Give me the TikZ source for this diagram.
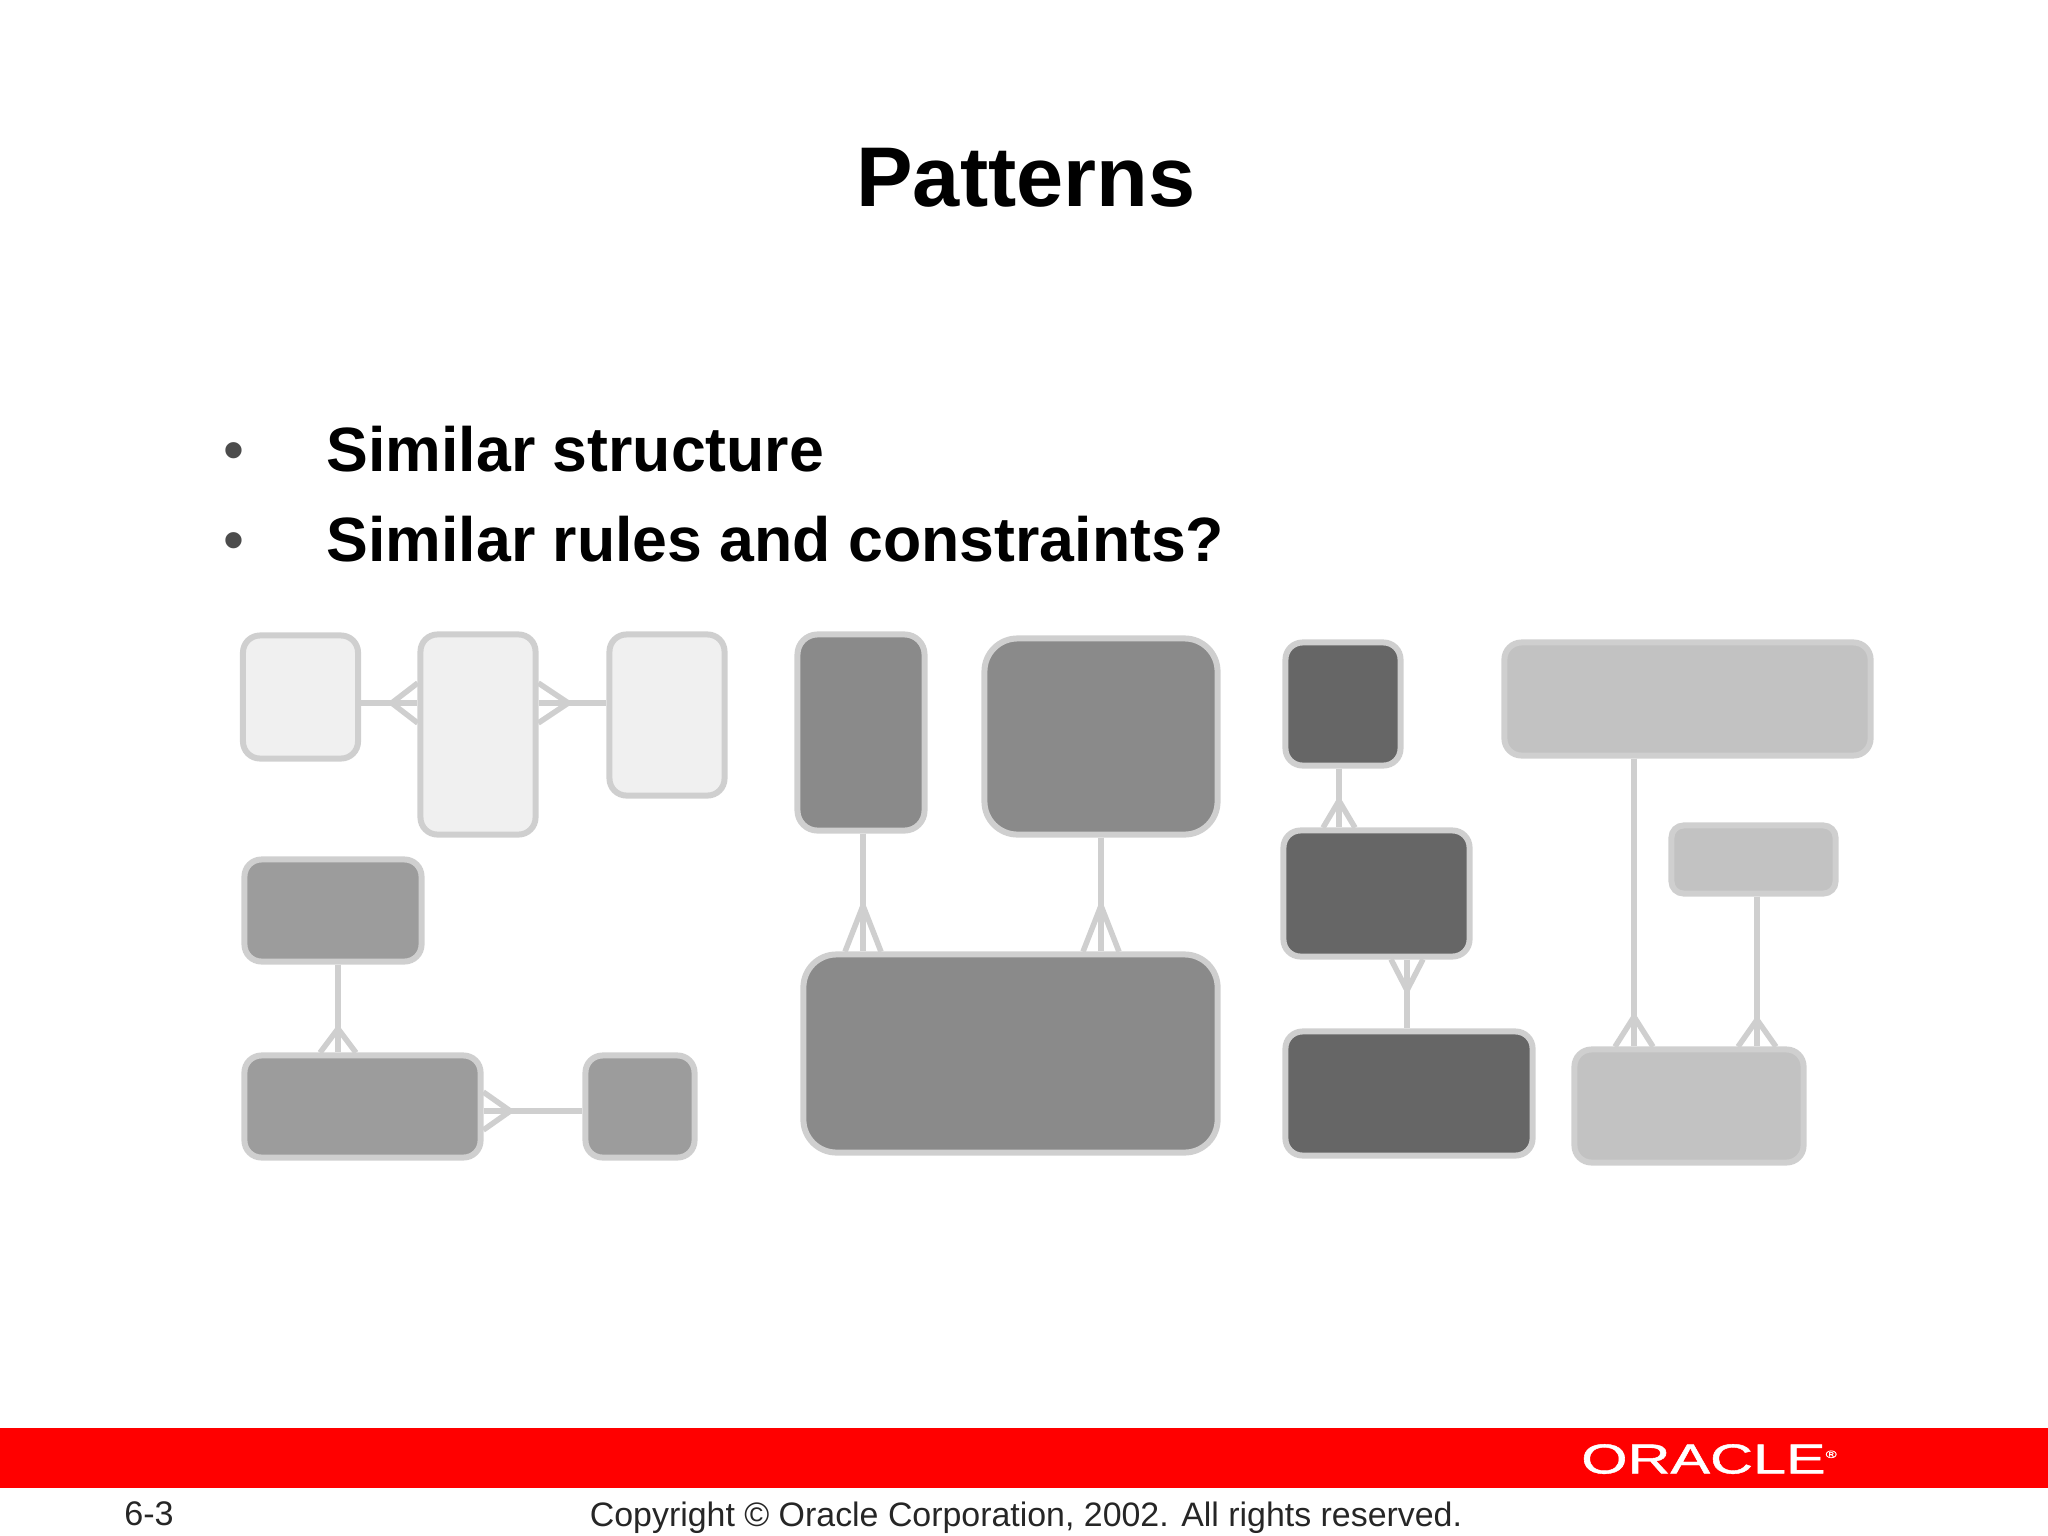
\documentclass[tikz,border=0pt]{standalone}
\usepackage{fontspec}
\setmainfont{Liberation Sans}
\usetikzlibrary{arrows.meta}
\definecolor{edgegrey}{HTML}{CFCFCF}
\tikzset{
	entity/.style={draw=edgegrey, line width=0.06cm, rounded corners=#1},
	entity/.default=0.17cm,
	link/.style={draw=edgegrey, line width=0.055cm},
	crow/.style 2 args={postaction={draw, shorten >=-0.03cm, -{Straight Barb[reversed, length=#1, width=#2]}}},
	crowback/.style 2 args={postaction={draw, shorten <=-0.03cm, {Straight Barb[reversed, length=#1, width=#2]}-}},
}

\begin{document}
\begin{tikzpicture}[x=0.01cm, y=-0.01cm]
		\useasboundingbox (0, 0) rectangle (2048, 1536);

		% header text
		\node[font=\bfseries\fontsize{24.1pt}{30pt}\selectfont] (title) at (1026, 178) {Patterns};
		\node[font=\fontsize{17pt}{20pt}\selectfont, text=black!70] (bulletone) at (234, 456.5) {•};
		\node[font=\fontsize{17pt}{20pt}\selectfont, text=black!70] (bullettwo) at (234, 546.5) {•};
		\node[font=\bfseries\fontsize{17.8pt}{20pt}\selectfont, anchor=base west, inner sep=0] (structure) at (326, 471) {Similar structure};
		\node[font=\bfseries\fontsize{17.8pt}{20pt}\selectfont, anchor=base west, inner sep=0] (rules) at (326, 561) {Similar rules and constraints?};

		% first group
		\node[entity, fill=black!6, minimum width=1.15cm, minimum height=1.23cm] (custa) at (300.5, 697) {};
		\node[entity, fill=black!6, minimum width=1.15cm, minimum height=2cm] (custb) at (478, 734.5) {};
		\node[entity, fill=black!6, minimum width=1.15cm, minimum height=1.61cm] (custc) at (667, 715) {};
		\draw[link, crow={0.26cm}{0.4cm}] (custa.east |- 0, 703) -- (custb.west |- 0, 703);
		\draw[link, crowback={0.3cm}{0.4cm}] (custb.east |- 0, 703) -- (custc.west |- 0, 703);

		% second group
		\node[entity, fill=black!39, minimum width=1.77cm, minimum height=1.02cm] (orda) at (333, 910.5) {};
		\node[entity, fill=black!39, minimum width=2.36cm, minimum height=1.02cm] (ordb) at (362.5, 1106.5) {};
		\node[entity, fill=black!39, minimum width=1.09cm, minimum height=1.02cm] (ordc) at (640, 1106.5) {};
		\draw[link, crow={0.24cm}{0.36cm}] (orda.south -| 338, 0) -- (ordb.north -| 338, 0);
		\draw[link, crowback={0.27cm}{0.38cm}] (ordb.east |- 0, 1111) -- (ordc.west |- 0, 1111);

		% third group
		\node[entity=0.2cm, fill=black!46, minimum width=1.27cm, minimum height=1.96cm] (parta) at (861, 732.5) {};
		\node[entity=0.33cm, fill=black!46, minimum width=2.33cm, minimum height=1.96cm] (partb) at (1101, 736.5) {};
		\node[entity=0.33cm, fill=black!46, minimum width=4.14cm, minimum height=1.98cm] (partc) at (1010.5, 1053.5) {};
		\draw[link, crow={0.46cm}{0.36cm}] (parta.south -| 863, 0) -- (partc.north -| 863, 0);
		\draw[link, crow={0.46cm}{0.36cm}] (partb.south -| 1101, 0) -- (partc.north -| 1101, 0);

		% fourth group
		\node[entity, fill=black!60, minimum width=1.15cm, minimum height=1.23cm] (treea) at (1343, 704) {};
		\node[entity, fill=black!60, minimum width=1.86cm, minimum height=1.26cm] (treeb) at (1376.5, 893.5) {};
		\node[entity, fill=black!60, minimum width=2.47cm, minimum height=1.24cm] (treec) at (1409, 1093.5) {};
		\draw[link, crow={0.27cm}{0.32cm}] (treea.south -| 1339, 0) -- (treeb.north -| 1339, 0);
		\draw[link, crowback={0.31cm}{0.32cm}] (treeb.south -| 1407, 0) -- (treec.north -| 1407, 0);

		% fifth group
		\node[entity, fill=black!24, minimum width=3.66cm, minimum height=1.13cm] (roota) at (1687.5, 699) {};
		\node[entity=0.12cm, fill=black!24, minimum width=1.64cm, minimum height=0.68cm] (rootb) at (1753.5, 859.5) {};
		\node[entity, fill=black!24, minimum width=2.29cm, minimum height=1.13cm] (rootc) at (1689, 1106) {};
		\draw[link, crow={0.3cm}{0.38cm}] (roota.south -| 1634, 0) -- (rootc.north -| 1634, 0);
		\draw[link, crow={0.27cm}{0.38cm}] (rootb.south -| 1757, 0) -- (rootc.north -| 1757, 0);

		% footer
		\fill[red] (0, 1428) rectangle (2048, 1488);
		\node[font=\addfontfeature{FakeBold=1}\fontsize{11.9pt}{12pt}\selectfont, text=white, xscale=1.42, inner sep=0] (oracle) at (1709, 1459) {ORACLE\raisebox{0.7ex}{\fontsize{3pt}{3pt}\selectfont ®}};
		\node[font=\fontsize{9.7pt}{12pt}\selectfont, text=black!85] (page) at (149, 1514) {6-3};
		\node[font=\fontsize{9.64pt}{12pt}\selectfont, text=black!85] (copyright) at (1026, 1518) {Copyright © Oracle Corporation, 2002. All rights reserved.};

	\end{tikzpicture}
\end{document}
